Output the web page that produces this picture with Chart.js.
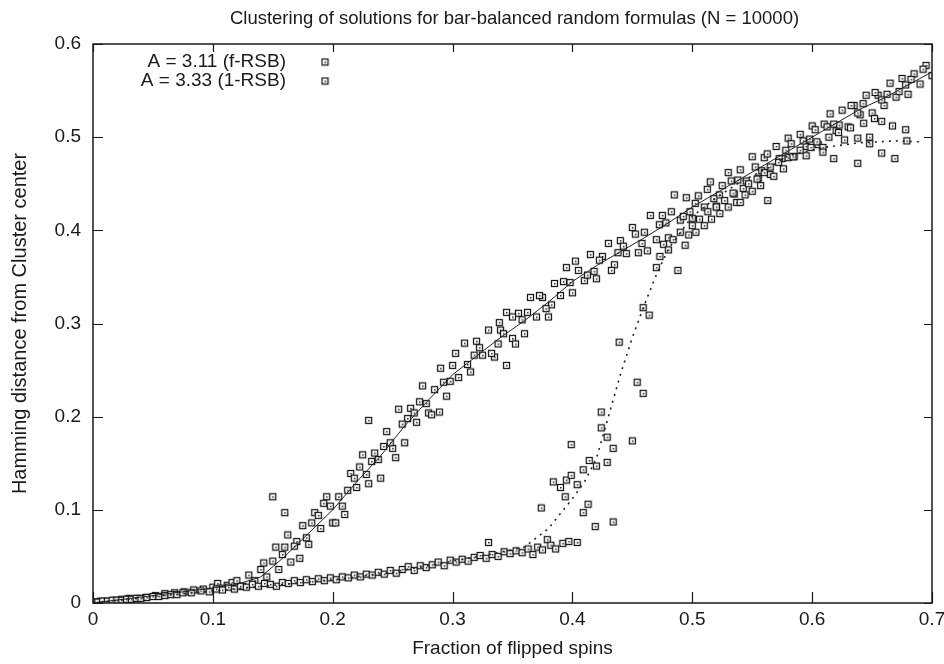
<!DOCTYPE html>
<html>
<head>
<meta charset="utf-8">
<title>Clustering of solutions</title>
<script src="https://cdn.jsdelivr.net/npm/chart.js@4.4.0/dist/chart.umd.min.js"></script>
<style>
  html, body { margin: 0; padding: 0; background: #fff; }
  #wrap { width: 944px; height: 664px; position: relative; }
</style>
</head>
<body>
<div id="wrap"><canvas id="chart"></canvas></div>
<script>
const chartTitle = 'Clustering of solutions for bar-balanced random formulas (N = 10000)';
const xTitle = 'Fraction of flipped spins';
const yTitle = 'Hamming distance from Cluster center';
const seriesLabels = ['A = 3.11 (f-RSB)', 'A = 3.33 (1-RSB)'];

const xTicks = [0, 0.1, 0.2, 0.3, 0.4, 0.5, 0.6, 0.7];
const yTicks = [0, 0.1, 0.2, 0.3, 0.4, 0.5, 0.6];

// A = 3.11 samples as [fraction flipped, distance]
const fRsbPoints = [
  [0.001,0.001],[0.006,0.002],[0.012,0.002],[0.018,0.003],[0.024,0.004],[0.03,0.005],
  [0.037,0.005],[0.044,0.006],[0.052,0.008],[0.06,0.01],[0.068,0.011],[0.076,0.012],
  [0.084,0.014],[0.092,0.015],[0.1,0.017],[0.104,0.021],[0.106,0.016],[0.112,0.019],[0.116,0.022],
  [0.12,0.024],[0.125,0.018],[0.13,0.03],[0.135,0.024],[0.14,0.036],[0.145,0.028],
  [0.15,0.045],[0.15,0.114],[0.155,0.036],[0.16,0.06],[0.16,0.097],[0.165,0.044],
  [0.17,0.066],[0.175,0.083],[0.18,0.063],[0.185,0.097],[0.19,0.08],[0.195,0.114],
  [0.2,0.086],[0.205,0.114],[0.21,0.095],[0.215,0.139],[0.22,0.124],[0.225,0.159],
  [0.23,0.128],[0.23,0.196],[0.235,0.161],[0.24,0.134],[0.245,0.184],[0.25,0.166],
  [0.255,0.208],[0.26,0.172],[0.265,0.209],[0.27,0.194],[0.275,0.233],[0.28,0.204],
  [0.285,0.229],[0.29,0.252],[0.295,0.222],[0.3,0.255],[0.305,0.242],[0.31,0.279],
  [0.315,0.248],[0.32,0.281],[0.325,0.266],[0.33,0.293],[0.335,0.264],[0.34,0.293],
  [0.345,0.312],[0.35,0.284],[0.355,0.311],[0.36,0.289],[0.365,0.328],[0.37,0.307],
  [0.375,0.328],[0.38,0.307],[0.385,0.343],[0.39,0.33],[0.395,0.36],[0.4,0.333],
  [0.405,0.357],[0.41,0.346],[0.415,0.374],[0.42,0.348],[0.425,0.372],[0.43,0.386],
  [0.435,0.363],[0.44,0.389],[0.445,0.375],[0.45,0.403],[0.455,0.376],[0.46,0.398],
  [0.465,0.416],[0.47,0.39],[0.475,0.416],[0.48,0.392],[0.485,0.438],[0.49,0.411],
  [0.495,0.435],[0.5,0.413],[0.505,0.437],[0.51,0.425],[0.515,0.452],[0.52,0.426],
  [0.525,0.448],[0.53,0.462],[0.535,0.439],[0.54,0.465],[0.545,0.453],[0.55,0.479],
  [0.555,0.456],[0.56,0.478],[0.565,0.46],[0.57,0.49],[0.575,0.477],[0.58,0.499],
  [0.585,0.479],[0.59,0.503],[0.595,0.49],[0.6,0.512],[0.605,0.492],[0.61,0.514],
  [0.615,0.525],[0.62,0.507],[0.625,0.529],[0.63,0.511],[0.635,0.534],[0.64,0.524],
  [0.645,0.545],[0.65,0.526],[0.655,0.545],[0.66,0.534],[0.665,0.558],[0.67,0.543],
  [0.675,0.563],[0.68,0.546],[0.685,0.568],[0.69,0.557],[0.695,0.577],[0.7,0.566],
  [0.1425,0.043],[0.1525,0.06],[0.1625,0.073],[0.1725,0.048],[0.1825,0.086],[0.1925,0.107],
  [0.2025,0.086],[0.2125,0.121],[0.2225,0.146],[0.2325,0.152],[0.2425,0.168],[0.2525,0.156],
  [0.2625,0.198],[0.2725,0.216],[0.2825,0.202],[0.2925,0.237],[0.3025,0.268],[0.3125,0.256],
  [0.3225,0.274],[0.3325,0.268],[0.3425,0.289],[0.3525,0.278],[0.3625,0.312],[0.3725,0.33],
  [0.3825,0.32],[0.3925,0.345],[0.4025,0.367],[0.4125,0.352],[0.4225,0.368],[0.4325,0.357],
  [0.4425,0.383],[0.4525,0.396],[0.4625,0.378],[0.4725,0.406],[0.4825,0.42],[0.4925,0.415],
  [0.5025,0.429],[0.5125,0.444],[0.5225,0.438],[0.5325,0.453],[0.5425,0.445],[0.5525,0.468],
  [0.5625,0.482],[0.5725,0.477],[0.5825,0.493],[0.5925,0.496],[0.6025,0.508],[0.6125,0.511],
  [0.6225,0.513],[0.6325,0.534],[0.6425,0.536],[0.6525,0.548],[0.6625,0.546],[0.6725,0.549],
  [0.6825,0.562],[0.6925,0.573],
  [0.158,0.052],[0.168,0.061],[0.178,0.07],[0.188,0.094],[0.198,0.104],[0.208,0.104],
  [0.218,0.134],[0.228,0.138],[0.238,0.154],[0.248,0.172],[0.258,0.192],[0.268,0.204],
  [0.278,0.214],[0.298,0.238],[0.318,0.266],[0.338,0.278],[0.358,0.304],[0.378,0.316],
  [0.398,0.344],[0.418,0.356],[0.438,0.376],[0.458,0.386],[0.478,0.408],[0.498,0.42],
  [0.518,0.434],[0.538,0.454],[0.558,0.464],[0.578,0.486],[0.598,0.498],[0.618,0.514],
  [0.638,0.526],[0.658,0.54],[0.678,0.556],
  [0.289,0.205],[0.339,0.301],[0.35,0.307],[0.345,0.255]
];

// A = 3.33 samples
const oneRsbPoints = [
  [0.001,0.001],[0.004,0.001],[0.008,0.002],[0.012,0.002],[0.016,0.003],[0.02,0.003],
  [0.024,0.003],[0.028,0.004],[0.032,0.004],[0.036,0.005],[0.04,0.005],[0.045,0.006],
  [0.05,0.007],[0.055,0.007],[0.06,0.008],[0.065,0.009],[0.07,0.009],[0.075,0.011],
  [0.082,0.011],[0.09,0.013],[0.097,0.012],[0.103,0.015],[0.108,0.014],[0.113,0.017],
  [0.118,0.015],[0.123,0.018],[0.128,0.017],[0.133,0.02],[0.138,0.018],[0.143,0.021],
  [0.148,0.02],[0.153,0.018],[0.158,0.022],[0.163,0.021],[0.168,0.024],[0.173,0.022],
  [0.178,0.025],[0.183,0.023],[0.188,0.026],[0.193,0.024],[0.198,0.027],[0.203,0.025],
  [0.208,0.028],[0.213,0.027],[0.218,0.03],[0.223,0.028],[0.228,0.031],[0.233,0.03],
  [0.238,0.033],[0.243,0.031],[0.248,0.035],[0.253,0.032],[0.258,0.036],[0.263,0.039],
  [0.268,0.035],[0.273,0.04],[0.278,0.038],[0.283,0.041],[0.288,0.044],[0.293,0.04],
  [0.298,0.046],[0.303,0.044],[0.308,0.047],[0.313,0.045],[0.318,0.049],[0.323,0.051],
  [0.328,0.048],[0.33,0.065],[0.333,0.052],[0.338,0.05],[0.343,0.055],[0.348,0.053],
  [0.353,0.056],[0.358,0.054],[0.363,0.058],[0.367,0.052],[0.371,0.06],[0.375,0.057],
  [0.379,0.068],[0.382,0.062],[0.386,0.058],[0.392,0.064],[0.397,0.066],[0.404,0.065],
  [0.374,0.102],[0.384,0.13],[0.39,0.124],[0.394,0.114],[0.395,0.132],[0.399,0.137],
  [0.399,0.17],[0.404,0.127],[0.409,0.143],[0.409,0.097],[0.413,0.106],[0.414,0.153],
  [0.419,0.082],[0.42,0.147],[0.424,0.205],[0.424,0.188],[0.429,0.178],[0.429,0.151],
  [0.434,0.166],[0.434,0.087],[0.439,0.28],[0.45,0.174],[0.454,0.237],[0.459,0.225],
  [0.459,0.317],[0.464,0.309],
  [0.47,0.36],[0.473,0.372],[0.476,0.385],[0.48,0.379],[0.484,0.39],[0.488,0.357],
  [0.49,0.398],[0.494,0.384],[0.497,0.395],[0.5,0.405],[0.503,0.398],[0.506,0.412],
  [0.51,0.405],[0.513,0.42],[0.516,0.412],[0.52,0.425],[0.523,0.418],[0.527,0.432],
  [0.53,0.425],[0.534,0.44],[0.537,0.43],[0.54,0.43],[0.544,0.438],[0.547,0.45],
  [0.55,0.442],[0.554,0.455],[0.557,0.448],[0.56,0.462],[0.563,0.432],[0.565,0.468],
  [0.568,0.458],[0.572,0.473],[0.576,0.466],[0.58,0.478],[0.584,0.479],[0.59,0.486],
  [0.595,0.48],[0.599,0.489],[0.604,0.495],[0.609,0.489],[0.609,0.484],[0.614,0.5],
  [0.618,0.477],[0.622,0.505],[0.627,0.497],[0.632,0.51],[0.638,0.499],[0.638,0.472],
  [0.643,0.515],[0.648,0.5],[0.648,0.493],[0.652,0.52],[0.658,0.517],[0.658,0.483],
  [0.667,0.512],[0.669,0.477],[0.678,0.508],[0.679,0.496]
];

// smooth curves drawn through each cloud
const fRsbCurveX = [0, 0.05, 0.1, 0.12, 0.14, 0.16, 0.18, 0.2, 0.22, 0.24, 0.26, 0.28, 0.3, 0.32, 0.34,
  0.36, 0.38, 0.4, 0.42, 0.44, 0.46, 0.48, 0.5, 0.52, 0.54, 0.56, 0.58, 0.6, 0.62, 0.64, 0.66, 0.68, 0.7];
const fRsbCurveY = [0, 0.008, 0.016, 0.02, 0.028, 0.05, 0.075, 0.1, 0.13, 0.158, 0.19, 0.218, 0.245, 0.265, 0.285,
  0.303, 0.323, 0.345, 0.362, 0.377, 0.392, 0.408, 0.425, 0.44, 0.455, 0.47, 0.485, 0.5, 0.515, 0.53, 0.542, 0.556, 0.57];

const oneRsbCurveX = [0, 0.05, 0.1, 0.15, 0.2, 0.25, 0.3, 0.33, 0.36, 0.38, 0.4, 0.41, 0.42, 0.43, 0.44,
  0.45, 0.46, 0.47, 0.48, 0.5, 0.52, 0.54, 0.565, 0.58, 0.61, 0.64, 0.67, 0.69];
const oneRsbCurveY = [0, 0.007, 0.013, 0.019, 0.025, 0.033, 0.045, 0.052, 0.06, 0.08, 0.112, 0.13, 0.155, 0.2, 0.245,
  0.285, 0.32, 0.352, 0.38, 0.415, 0.435, 0.452, 0.468, 0.48, 0.489, 0.494, 0.496, 0.495];

const FONT = '"Liberation Sans", Helvetica, Arial, sans-serif';
const INK = '#1a1a1a';

const toXY = pairs => pairs.map(p => ({ x: p[0], y: p[1] }));
const zipXY = (xs, ys) => xs.map((x, i) => ({ x: x, y: ys[i] }));

// gnuplot style box marker with a dot in the middle
function makeMarker() {
  const c = document.createElement('canvas');
  c.width = 9;
  c.height = 9;
  const g = c.getContext('2d');
  g.fillStyle = '#fff';
  g.fillRect(1, 1, 7, 7);
  g.strokeStyle = '#151515';
  g.lineWidth = 1.25;
  g.strokeRect(1.5, 1.5, 6, 6);
  g.fillStyle = '#222';
  g.fillRect(4, 4, 1.5, 1.5);
  return c;
}
const marker = makeMarker();

const framePlugin = {
  id: 'frame',
  afterDatasetsDraw(chart) {
    const { ctx, chartArea: a, scales } = chart;
    ctx.save();
    ctx.strokeStyle = INK;
    ctx.lineWidth = 1.2;
    ctx.beginPath();
    xTicks.forEach(v => {
      const px = Math.round(scales.x.getPixelForValue(v)) + 0.5;
      ctx.moveTo(px, a.bottom); ctx.lineTo(px, a.bottom - 11);
      ctx.moveTo(px, a.top); ctx.lineTo(px, a.top + 8);
    });
    yTicks.forEach(v => {
      const py = Math.round(scales.y.getPixelForValue(v)) + 0.5;
      ctx.moveTo(a.left, py); ctx.lineTo(a.left + 10, py);
      ctx.moveTo(a.right, py); ctx.lineTo(a.right - 8, py);
    });
    ctx.stroke();
    ctx.lineWidth = 1.5;
    ctx.strokeRect(a.left, a.top, a.right - a.left, a.bottom - a.top);

    // title
    ctx.fillStyle = INK;
    ctx.font = '18.5px ' + FONT;
    ctx.textAlign = 'center';
    ctx.textBaseline = 'middle';
    ctx.fillText(chartTitle, (a.left + a.right) / 2 + 2, 19);

    // key, top left inside the frame
    ctx.font = '19px ' + FONT;
    ctx.textAlign = 'right';
    seriesLabels.forEach((label, i) => {
      const y = 62 + i * 19;
      ctx.fillText(label, 286, y);
      ctx.drawImage(marker, 325 - 4.5, y - 4.5);
    });
    ctx.restore();
  }
};

new Chart(document.getElementById('chart'), {
  type: 'scatter',
  data: {
    datasets: [
      {
        type: 'line',
        label: 'f-RSB curve',
        data: zipXY(fRsbCurveX, fRsbCurveY),
        borderColor: '#222',
        borderWidth: 1,
        pointRadius: 0,
        fill: false,
        order: 0
      },
      {
        type: 'line',
        label: '1-RSB curve',
        data: zipXY(oneRsbCurveX, oneRsbCurveY),
        borderColor: '#222',
        borderWidth: 1.6,
        borderDash: [2, 5],
        pointRadius: 0,
        fill: false,
        order: 0
      },
      {
        label: seriesLabels[1],
        data: toXY(oneRsbPoints),
        pointStyle: marker,
        pointRadius: 4,
        order: 1
      },
      {
        label: seriesLabels[0],
        data: toXY(fRsbPoints),
        pointStyle: marker,
        pointRadius: 4,
        order: 2
      }
    ]
  },
  options: {
    responsive: true,
    maintainAspectRatio: false,
    animation: false,
    layout: { padding: { top: 44, right: 12, left: 0, bottom: 0 } },
    plugins: {
      legend: { display: false },
      title: { display: false },
      tooltip: { enabled: false }
    },
    scales: {
      x: {
        type: 'linear',
        min: 0,
        max: 0.7,
        afterBuildTicks: s => { s.ticks = xTicks.map(v => ({ value: v })); },
        afterFit: s => { s.height = 61; s.paddingLeft = 0; s.paddingRight = 0; },
        grid: { display: false, drawTicks: false },
        border: { display: false },
        ticks: { color: INK, font: { family: FONT, size: 19 }, padding: 5, maxRotation: 0 },
        title: {
          display: true,
          text: xTitle,
          color: INK,
          font: { family: FONT, size: 19 },
          padding: { top: 0, bottom: 4 }
        }
      },
      y: {
        type: 'linear',
        min: 0,
        max: 0.6,
        afterBuildTicks: s => { s.ticks = yTicks.map(v => ({ value: v })); },
        afterFit: s => { s.width = 93; s.paddingTop = 0; s.paddingBottom = 0; },
        grid: { display: false, drawTicks: false },
        border: { display: false },
        ticks: { color: INK, font: { family: FONT, size: 19 }, padding: 12 },
        title: {
          display: true,
          text: yTitle,
          color: INK,
          font: { family: FONT, size: 20 },
          padding: { top: 8, bottom: 0 }
        }
      }
    }
  },
  plugins: [framePlugin]
});
</script>
</body>
</html>
